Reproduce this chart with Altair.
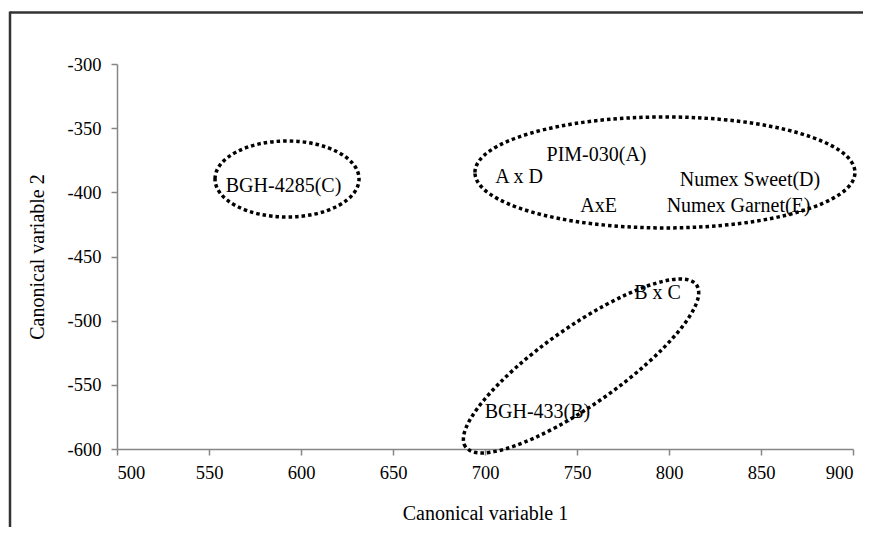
import altair as alt
import pandas as pd

# ---- data ----
labels = ["BGH-4285(C)", "PIM-030(A)", "A x D", "AxE", "Numex Sweet(D)",
          "Numex Garnet(E)", "B x C", "BGH-433(B)"]
cv1 = [590.5, 760.6, 718.5, 761.7, 844.0, 837.8, 793.8, 728.5]
cv2 = [-395.0, -370.9, -388.0, -410.6, -390.4, -410.6, -478.4, -571.1]

# group ellipse centres (canonical variable units)
group_cv1 = [592.4, 797.8, 752.2]
group_cv2 = [-389.6, -384.5, -535.3]

# ---- styles ----
# ellipse outline (pixels): half-width, half-height, rotation
ell_style = [(72, 38, 0), (190, 55.5, 0), (141, 39, 325)]
SERIF = "Liberation Serif"


def ellipse_path(ratio):
    k = 0.5523
    r = ratio
    return (f"M-1,0 C-1,{-k*r:.4f} {-k:.4f},{-r:.4f} 0,{-r:.4f} "
            f"C{k:.4f},{-r:.4f} 1,{-k*r:.4f} 1,0 "
            f"C1,{k*r:.4f} {k:.4f},{r:.4f} 0,{r:.4f} "
            f"C{-k:.4f},{r:.4f} -1,{k*r:.4f} -1,0 Z")


xscale = alt.Scale(domain=[500, 900], nice=False, zero=False)
yscale = alt.Scale(domain=[-600, -300], nice=False, zero=False)

xaxis = alt.Axis(values=list(range(500, 901, 50)), title="Canonical variable 1",
                 grid=False, domainColor="#868686", tickColor="#868686",
                 domainWidth=1.5, tickWidth=1.5, tickSize=6,
                 labelFont=SERIF, labelFontSize=18.5, labelColor="black",
                 labelPadding=8, labelExpr="'' + datum.value",
                 titleFont=SERIF, titleFontSize=20,
                 titleFontWeight="normal", titleColor="black", titlePadding=22)
yaxis = alt.Axis(values=list(range(-600, -299, 50)), title="Canonical variable 2",
                 grid=False, domainColor="#868686", tickColor="#868686",
                 domainWidth=1.5, tickWidth=1.5, tickSize=6,
                 labelFont=SERIF, labelFontSize=18.5, labelColor="black",
                 labelPadding=10, labelExpr="'' + datum.value",
                 titleFont=SERIF, titleFontSize=20,
                 titleFontWeight="normal", titleColor="black", titlePadding=20)

df_lab = pd.DataFrame({"cv1": cv1, "cv2": cv2, "label": labels})

text = alt.Chart(df_lab).mark_text(
    font=SERIF, fontSize=20, color="black", align="center", baseline="middle"
).encode(
    x=alt.X("cv1:Q", scale=xscale, axis=xaxis),
    y=alt.Y("cv2:Q", scale=yscale, axis=yaxis),
    text="label:N",
)

layers = [text]
for i, (rx, ry, ang) in enumerate(ell_style):
    d = pd.DataFrame({"cv1": [group_cv1[i]], "cv2": [group_cv2[i]]})
    kw = dict(shape=ellipse_path(ry / rx), size=(2 * rx) ** 2, filled=False,
              stroke="black", strokeWidth=3.5, strokeDash=[3.5, 3],
              opacity=1)
    if ang:
        kw["angle"] = ang
    layers.append(
        alt.Chart(d).mark_point(**kw).encode(
            x=alt.X("cv1:Q", scale=xscale),
            y=alt.Y("cv2:Q", scale=yscale),
        )
    )

frame_df = pd.DataFrame({"a": [0]})
top_line = alt.Chart(frame_df).mark_rule(color="#333333", strokeWidth=2.5).encode(
    x=alt.value(-107), x2=alt.value(760), y=alt.value(-51.5))
left_line = alt.Chart(frame_df).mark_rule(color="#333333", strokeWidth=2.5).encode(
    x=alt.value(-107), y=alt.value(-52.5), y2=alt.value(480))
layers += [top_line, left_line]

chart = alt.layer(*layers).properties(
    width=736, height=385,
    autosize=alt.AutoSizeParams(type="none"),
    padding={"left": 109, "top": 56, "right": 10, "bottom": 78},
    background="white",
).configure_view(stroke=None)

chart.save("out.html", embed_options={"renderer": "svg", "actions": False})
